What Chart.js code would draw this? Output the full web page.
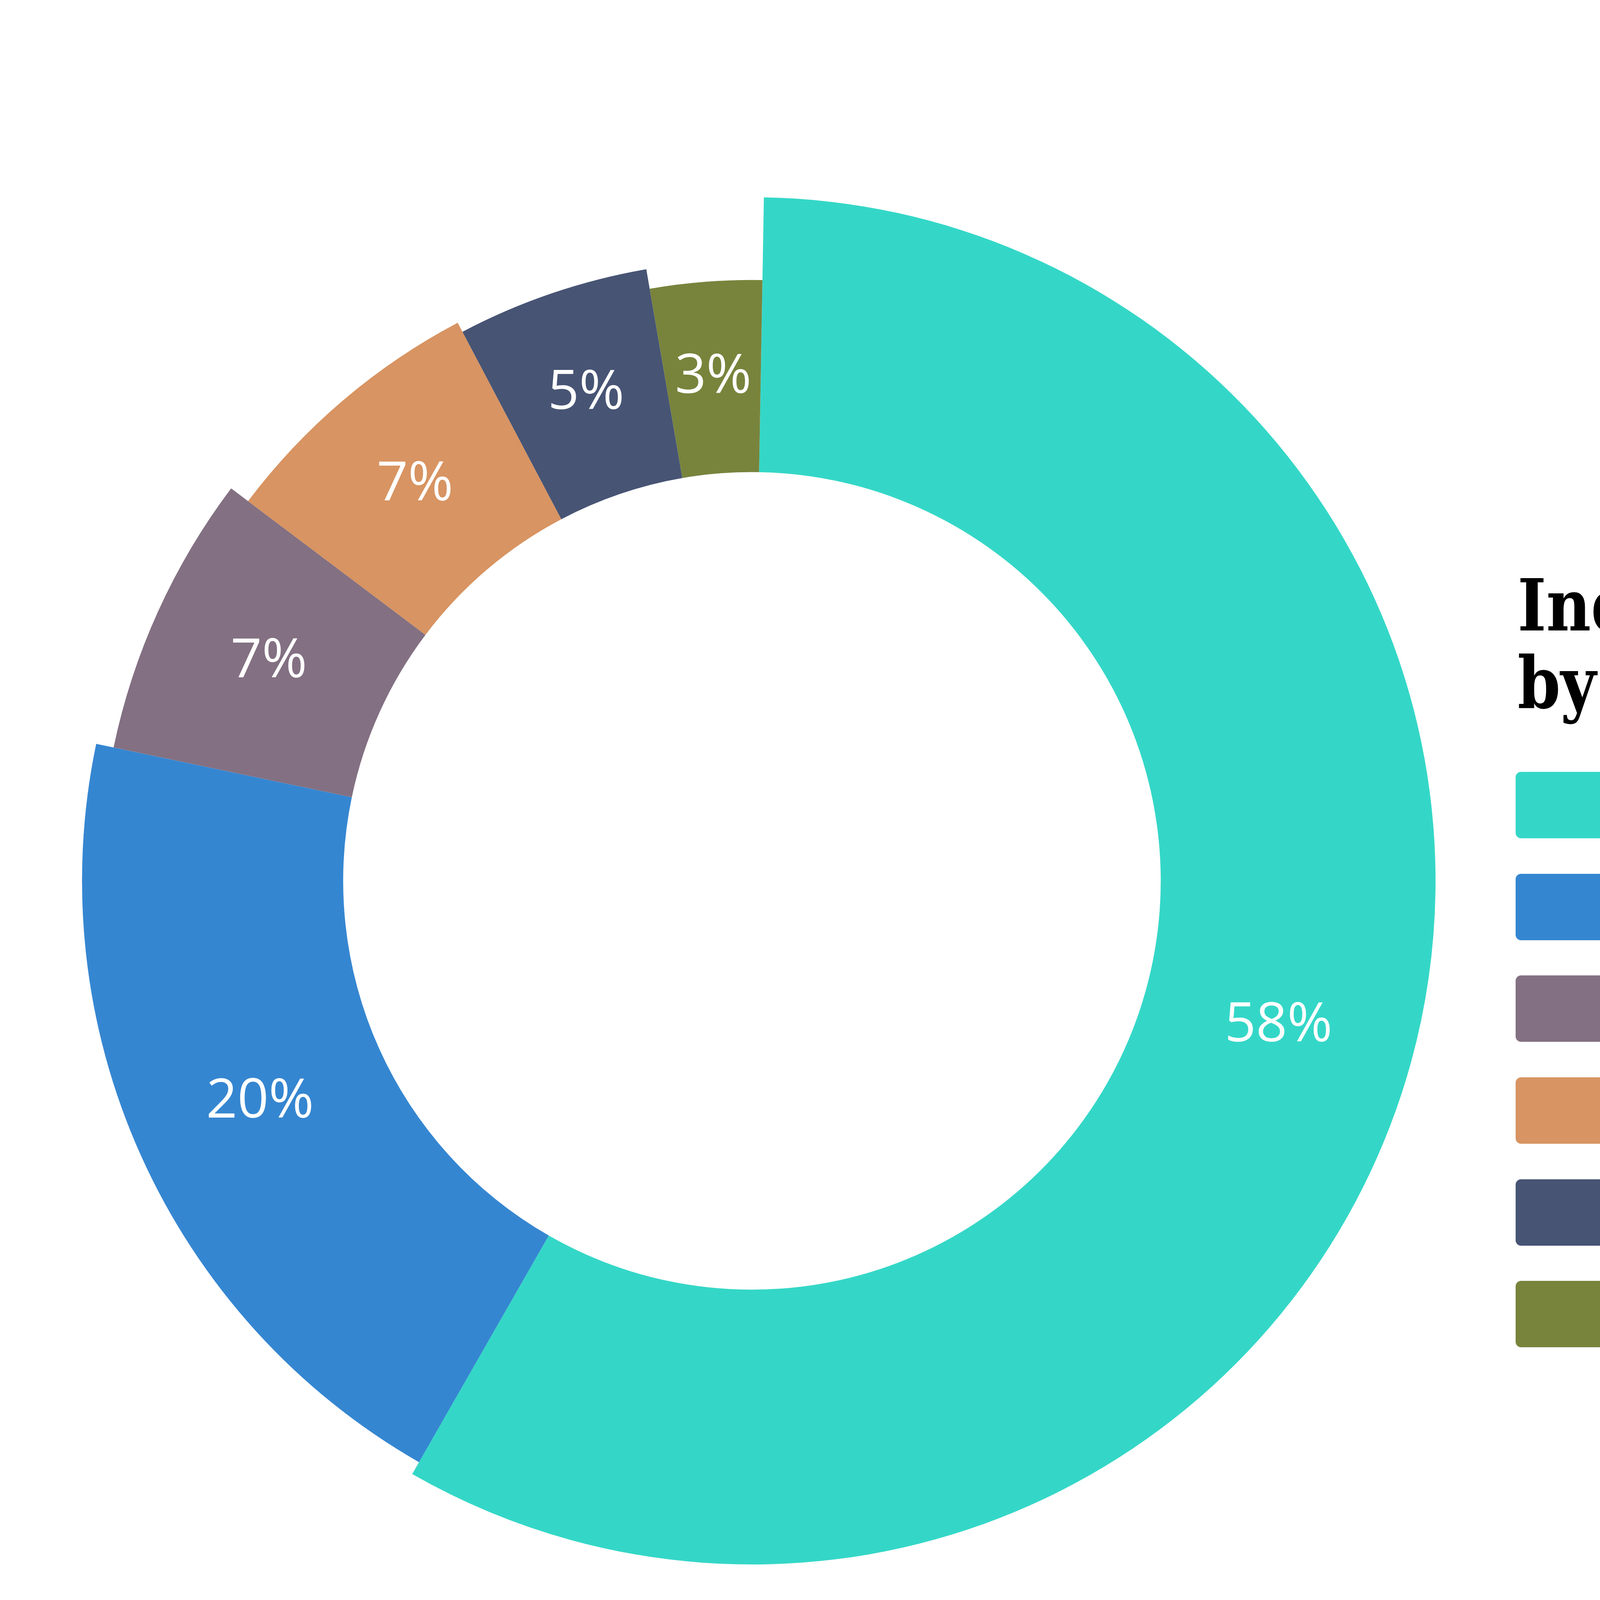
<!DOCTYPE html>
<html>
<head>
<meta charset="utf-8">
<title>Industry sectors represented by attendees</title>
<script src="https://cdn.jsdelivr.net/npm/chart.js@4.4.1/dist/chart.umd.min.js"></script>
<style>
    html, body {
        margin: 0;
        padding: 0;
        background: #ffffff;
        overflow: hidden;
    }

    #page {
        position: relative;
        width: 7119px;
        height: 4658px;
    }

    #donutBox {
        position: absolute;
        left: 175px;
        top: 505px;
        width: 3500px;
        height: 3500px;
    }

    #legendTitle {
        position: absolute;
        left: 3885px;
        top: 1450px;
        margin: 0;
        font-family: "DejaVu Serif", serif;
        font-weight: bold;
        font-stretch: condensed;
        font-size: 184px;
        line-height: 199px;
        color: #000000;
        white-space: nowrap;
        transform-origin: left top;
    }

    #legendTitle span {
        display: block;
    }

    #legendList {
        position: absolute;
        left: 3880px;
        top: 1931px;
        margin: 0;
        padding: 0;
        list-style: none;
    }

    #legendList li {
        display: flex;
        align-items: center;
        height: 260.6px;
    }

    #legendList .swatch {
        width: 470px;
        height: 170px;
        border-radius: 14px;
        flex: none;
    }

    #legendList .name {
        margin-left: 70px;
        font-family: "Open Sans", sans-serif;
        font-size: 120px;
        color: #1a1a1a;
        white-space: nowrap;
    }
</style>
</head>
<body>
<div id="page">
<div id="donutBox"><canvas id="sectorChart"></canvas></div>

<h1 id="legendTitle"><span>Industry sectors represented</span><span>by attendees</span></h1>
<ul id="legendList"></ul>
</div>

<script>
// values, in drawing order (clockwise from the top)
const sectorLabels = [
    'Multifamily owners, investors, and developers',
    'Vendors and service providers',
    'Real estate attorneys and advisory firms',
    'Brokers/Lenders',
    'Property managers',
    'Insurance companies'
];
const sectorShares = [58, 20, 7, 7, 5, 3];

const sectorColors = ['#34d7c7', '#3586d1', '#837082', '#d89462', '#475474', '#78843c'];

// each slice reaches a little less far out than the one before it
const sliceReach = [1.0, 0.98, 0.954, 0.923, 0.908, 0.879];

document.addEventListener('DOMContentLoaded', function () {

    const legendList = document.getElementById('legendList');
    sectorLabels.forEach(function (label, i) {
        const item = document.createElement('li');
        const swatch = document.createElement('span');
        swatch.className = 'swatch';
        swatch.style.background = sectorColors[i];
        const name = document.createElement('span');
        name.className = 'name';
        name.textContent = label;
        item.appendChild(swatch);
        item.appendChild(name);
        legendList.appendChild(item);
    });

    // squeeze the slab title to the width it has in the picture
    const titleEl = document.getElementById('legendTitle');
    const firstLine = titleEl.querySelector('span');
    const lineWidth = firstLine.scrollWidth;
    if (lineWidth > 0) {
        titleEl.style.transform = 'scaleX(' + (2550 / lineWidth) + ')';
    }

    const stepReach = {
        id: 'stepReach',
        afterDatasetsUpdate: function (chart) {
            const meta = chart.getDatasetMeta(0);
            meta.data.forEach(function (arc, i) {
                arc.outerRadius = arc.outerRadius * sliceReach[i];
            });
        }
    };

    const shareLabels = {
        id: 'shareLabels',
        afterDatasetsDraw: function (chart) {
            const ctx = chart.ctx;
            const meta = chart.getDatasetMeta(0);
            ctx.save();
            ctx.fillStyle = '#ffffff';
            ctx.font = '140px "Open Sans", sans-serif';
            ctx.textAlign = 'center';
            ctx.textBaseline = 'middle';
            meta.data.forEach(function (arc, i) {
                const mid = (arc.startAngle + arc.endAngle) / 2;
                const r = (arc.innerRadius + arc.outerRadius) / 2;
                ctx.fillText(sectorShares[i] + '%', arc.x + Math.cos(mid) * r, arc.y + Math.sin(mid) * r);
            });
            ctx.restore();
        }
    };

    const ctx = document.getElementById('sectorChart').getContext('2d');

    if (ctx) {
        var sectorChart = new Chart(ctx, {
            type: 'doughnut',
            data: {
                labels: sectorLabels,
                datasets: [{
                    label: 'Share of attendees',
                    data: sectorShares,
                    backgroundColor: sectorColors,
                    borderWidth: 0
                }]
            },
            options: {
                responsive: true,
                maintainAspectRatio: false,
                animation: false,
                cutout: '59.8%',
                rotation: 1,
                layout: { padding: 0 },
                plugins: {
                    legend: { display: false },
                    tooltip: { enabled: false }
                }
            },
            plugins: [stepReach, shareLabels]
        });
    }
});
</script>
</body>
</html>
